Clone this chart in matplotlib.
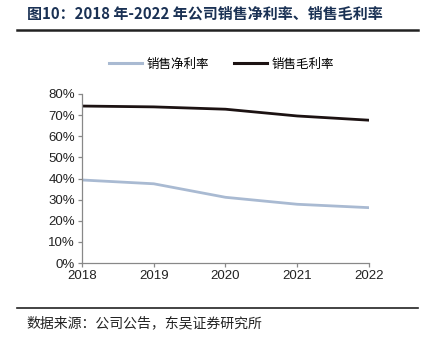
import matplotlib
matplotlib.use("Agg")
import matplotlib.pyplot as plt
from matplotlib.lines import Line2D

years = ["2018", "2019", "2020", "2021", "2022"]
net_margin = [39.3, 37.5, 31.1, 27.8, 26.2]
gross_margin = [74.3, 73.9, 72.8, 69.6, 67.6]
yticks = [0, 10, 20, 30, 40, 50, 60, 70, 80]

plt.rcParams['font.family'] = ['Liberation Sans', 'Noto Sans CJK SC', 'DejaVu Sans']

W, H = 427, 338
fig = plt.figure(figsize=(W / 100, H / 100), dpi=100)

# axes box in pixels: left 82, right 369, top 94, bottom 263
ax = fig.add_axes([82 / W, 1 - 263 / H, (369 - 82) / W, (263 - 94) / H])
x = range(len(years))
ax.plot(x, net_margin, color='#a9bad2', lw=2.0, label='销售净利率')
ax.plot(x, gross_margin, color='#1c1212', lw=2.0, label='销售毛利率')

ax.set_xlim(0, len(years) - 1)
ax.set_ylim(0, 80)
ax.set_xticks(list(x))
ax.set_xticklabels(years, fontsize=9.5, color='#222222')
ax.set_yticks(yticks)
ax.set_yticklabels([f"{v}%" for v in yticks], fontsize=9.5, color='#222222')
for s in ['top', 'right']:
    ax.spines[s].set_visible(False)
for s in ['left', 'bottom']:
    ax.spines[s].set_color('#888888')
    ax.spines[s].set_linewidth(0.9)
ax.tick_params(axis='both', direction='out', length=3, color='#888888', width=0.9, pad=2)

# legend
fig.legend(handles=[Line2D([], [], color='#a9bad2', lw=2.2), Line2D([], [], color='#1c1212', lw=2.2)],
           labels=['销售净利率', '销售毛利率'], loc='center', bbox_to_anchor=(222 / W, 1 - 64 / H),
           ncol=2, frameon=False, handlelength=2.6, handletextpad=0.4, columnspacing=2.0,
           prop={'family': ['Noto Sans CJK SC'], 'size': 9})

# title and rules
fig.text(27 / W, 1 - 14 / H, '图10：2018 年-2022 年公司销售净利率、销售毛利率', fontsize=10.8, fontweight='bold',
         color='#1a3154', va='center', ha='left', family=['Noto Sans CJK SC'])
fig.add_artist(Line2D([17 / W, 418 / W], [1 - 30 / H, 1 - 30 / H], color='#222222', lw=1.8))
fig.add_artist(Line2D([17 / W, 418 / W], [1 - 308 / H, 1 - 308 / H], color='#222222', lw=1.2))
fig.text(26 / W, 1 - 323 / H, '数据来源：公司公告，东吴证券研究所', fontsize=10, color='#222222',
         va='center', ha='left', family=['Noto Sans CJK SC'])

fig.savefig('out.png', dpi=100)
